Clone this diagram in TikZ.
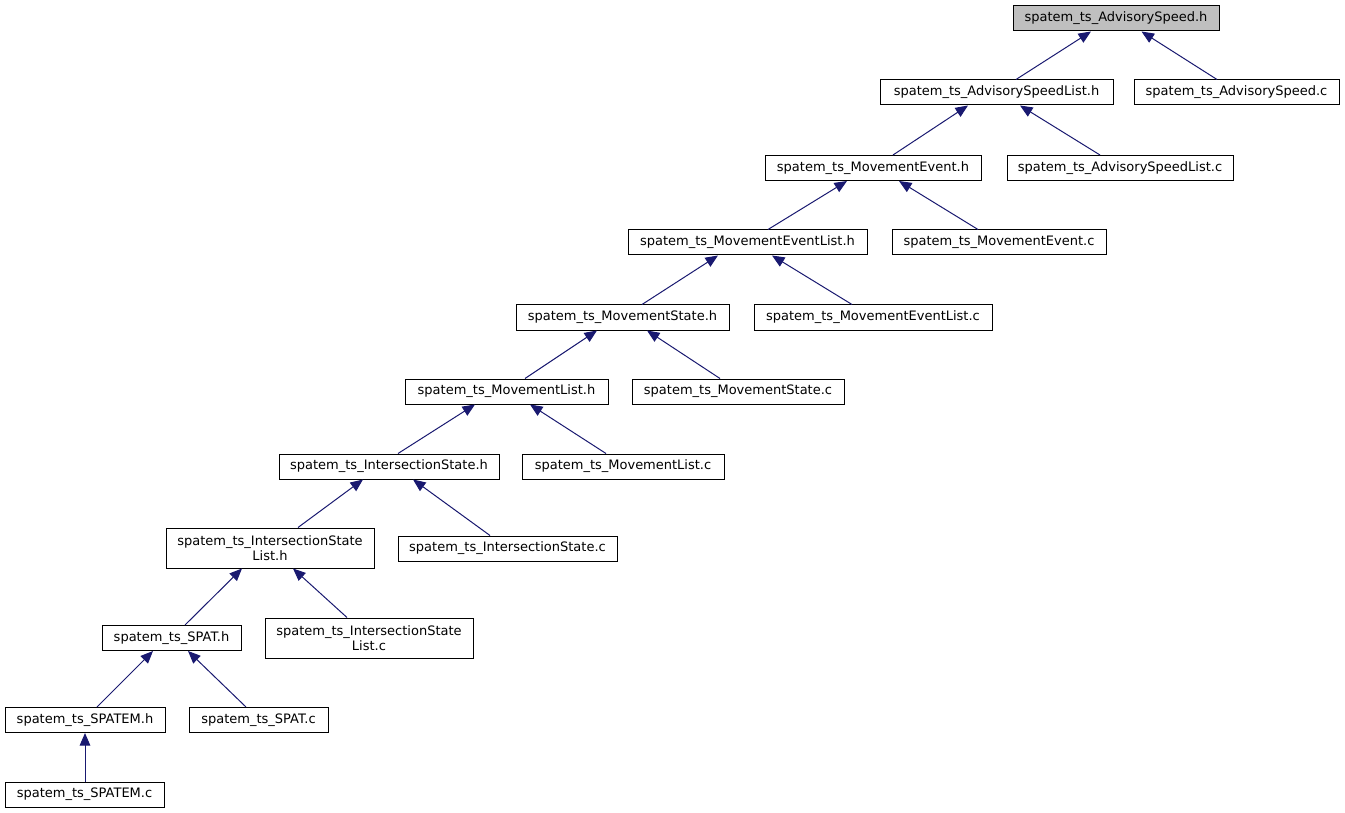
\documentclass[tikz,border=0pt]{standalone}
\usepackage{fontspec}
\setmainfont{DejaVu Sans}
\usetikzlibrary{arrows.meta}
\definecolor{edgeblue}{HTML}{191970}
\definecolor{rootgray}{HTML}{BFBFBF}
\begin{document}
\begin{tikzpicture}[x=1pt,y=-1pt,
  box/.style={draw=black, line width=1pt, fill=white, inner sep=0pt, minimum height=25pt, align=center, font=\fontsize{13}{15}\selectfont},
  dep/.style={draw=edgeblue, line width=1pt, {Triangle[length=12.5pt,width=10.5pt]}-}]
\useasboundingbox (0,0) rectangle (1345,813);
% nodes
\node[box, fill=rootgray, minimum width=206pt] (ash) at (1116,18.5) {spatem\_ts\_AdvisorySpeed.h};
\node[box, minimum width=233pt] (asl) at (996.5,92.5) {spatem\_ts\_AdvisorySpeedList.h};
\node[box, minimum width=205pt] (asc) at (1236.5,92.5) {spatem\_ts\_AdvisorySpeed.c};
\node[box, minimum width=216pt] (meh) at (873,168) {spatem\_ts\_MovementEvent.h};
\node[box, minimum width=226pt] (aslc) at (1120,168) {spatem\_ts\_AdvisorySpeedList.c};
\node[box, minimum width=239pt] (melh) at (747.5,242.5) {spatem\_ts\_MovementEventList.h};
\node[box, minimum width=214pt] (mec) at (999,242.5) {spatem\_ts\_MovementEvent.c};
\node[box, minimum width=213pt] (msh) at (622.5,317.5) {spatem\_ts\_MovementState.h};
\node[box, minimum width=238pt] (melc) at (873,317.5) {spatem\_ts\_MovementEventList.c};
\node[box, minimum width=203pt] (mlh) at (506.5,391.5) {spatem\_ts\_MovementList.h};
\node[box, minimum width=212pt] (msc) at (738,391.5) {spatem\_ts\_MovementState.c};
\node[box, minimum width=220pt] (ish) at (389,466.5) {spatem\_ts\_IntersectionState.h};
\node[box, minimum width=202pt] (mlc) at (623,466.5) {spatem\_ts\_MovementList.c};
\node[box, minimum width=208pt, minimum height=40pt] (islh) at (270,548) {spatem\_ts\_IntersectionState\\List.h};
\node[box, minimum width=219pt] (isc) at (507.5,548.5) {spatem\_ts\_IntersectionState.c};
\node[box, minimum width=139pt] (spath) at (171.5,638) {spatem\_ts\_SPAT.h};
\node[box, minimum width=208pt, minimum height=40pt] (islc) at (369,638) {spatem\_ts\_IntersectionState\\List.c};
\node[box, minimum width=160pt] (spatemh) at (85,720) {spatem\_ts\_SPATEM.h};
\node[box, minimum width=139pt] (spatc) at (258.5,720) {spatem\_ts\_SPAT.c};
\node[box, minimum width=159pt] (spatemc) at (84.5,794.5) {spatem\_ts\_SPATEM.c};
% edges
\draw[dep] ([xshift=-25pt]ash.south) -- ([xshift=19.5pt]asl.north);
\draw[dep] ([xshift=25.5pt]ash.south) -- ([xshift=-19.5pt]asc.north);
\draw[dep] ([xshift=-28.5pt]asl.south) -- ([xshift=20pt]meh.north);
\draw[dep] ([xshift=23.5pt]asl.south) -- ([xshift=-20pt]aslc.north);
\draw[dep] ([xshift=-26pt]meh.south) -- ([xshift=20.5pt]melh.north);
\draw[dep] ([xshift=26pt]meh.south) -- ([xshift=-21pt]mec.north);
\draw[dep] ([xshift=-29.5pt]melh.south) -- ([xshift=19.5pt]msh.north);
\draw[dep] ([xshift=24.5pt]melh.south) -- ([xshift=-21pt]melc.north);
\draw[dep] ([xshift=-25.5pt]msh.south) -- ([xshift=18.5pt]mlh.north);
\draw[dep] ([xshift=24.5pt]msh.south) -- ([xshift=-18pt]msc.north);
\draw[dep] ([xshift=-31.5pt]mlh.south) -- ([xshift=9pt]ish.north);
\draw[dep] ([xshift=23.5pt]mlh.south) -- ([xshift=-17pt]mlc.north);
\draw[dep] ([xshift=-26pt]ish.south) -- ([xshift=28pt]islh.north);
\draw[dep] ([xshift=24pt]ish.south) -- ([xshift=-17.5pt]isc.north);
\draw[dep] ([xshift=-28pt]islh.south) -- ([xshift=13.5pt]spath.north);
\draw[dep] ([xshift=23pt]islh.south) -- ([xshift=-22pt]islc.north);
\draw[dep] ([xshift=-18.5pt]spath.south) -- ([xshift=12pt]spatemh.north);
\draw[dep] ([xshift=16.5pt]spath.south) -- ([xshift=-12.5pt]spatc.north);
\draw[dep] (spatemh.south) -- ([xshift=0.5pt]spatemc.north);
\end{tikzpicture}
\end{document}
